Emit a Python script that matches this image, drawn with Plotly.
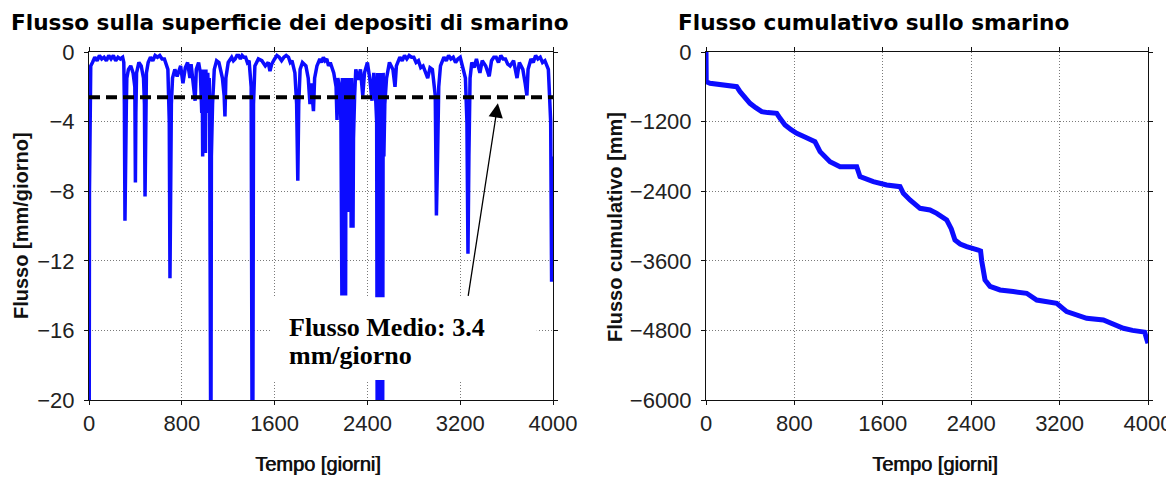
import plotly.graph_objects as go

# ---------------- data ----------------
# Left: daily surface flux (mm/giorno)
flux_days = [0, 2, 4, 8, 15, 30, 50, 70, 90, 110, 130, 150, 170, 190, 210, 230, 250, 270, 290, 300,
             305, 310, 314, 318, 322, 326, 340, 360, 380, 395, 400, 404, 410, 430, 450, 470, 478, 483, 488, 495,
             510, 530, 550, 570, 590, 610, 630, 650, 680, 692, 698, 704, 710, 720, 740, 760, 790, 810, 830, 850,
             870, 880, 900, 915, 925, 945, 960, 972, 976, 980, 984, 988, 992, 996, 1000, 1004, 1008, 1012, 1016,
             1020, 1024, 1030, 1036, 1040, 1043, 1048, 1052, 1055,
             1065, 1080, 1100, 1120, 1150, 1165, 1172, 1180, 1200, 1215, 1230, 1245, 1260, 1275, 1290, 1305, 1320,
             1335, 1350, 1365, 1380, 1398, 1402, 1405, 1410, 1413, 1418, 1430, 1460, 1490, 1520, 1545, 1560, 1575,
             1600, 1620, 1640, 1660, 1680, 1700, 1720, 1735, 1750, 1775, 1790, 1800, 1808, 1820, 1840, 1870, 1890,
             1905, 1915, 1935, 1945, 1965, 1990, 2005, 2020, 2035, 2050, 2065, 2080, 2110, 2130, 2138, 2145,
             2160, 2172, 2180, 2184, 2188, 2192, 2196, 2200, 2204, 2208, 2212, 2216, 2220, 2224, 2228, 2232, 2236,
             2240, 2244, 2248, 2252, 2256, 2260, 2264, 2268, 2272, 2276, 2280, 2290, 2300, 2320, 2340, 2360, 2375,
             2400, 2420, 2440, 2455,
             2470, 2480, 2484, 2488, 2492, 2496, 2500, 2504, 2508, 2512, 2516, 2520, 2524, 2528, 2532, 2536, 2542,
             2550, 2565, 2590, 2620, 2638, 2650, 2680, 2700, 2720, 2740, 2760, 2780,
             2800, 2820, 2840, 2860, 2880, 2900, 2920, 2940, 2960, 2985, 2995, 3005, 3015, 3030, 3060, 3080, 3100,
             3120, 3140, 3160, 3180, 3200, 3220, 3245, 3258, 3267, 3275, 3285, 3300, 3320, 3340, 3370, 3390, 3420,
             3450, 3470, 3490, 3510, 3530, 3550, 3570, 3590, 3610, 3630, 3660, 3690, 3710, 3740, 3760, 3775,
             3785, 3810, 3830, 3850, 3870, 3890, 3910, 3930, 3960, 3980, 3988, 3992, 3996, 4000]
flux_vals = [-20, -20, -8, -1.5, -0.8, -0.6, -0.3, -0.5, -0.2, -0.4, -0.3, -0.5, -0.2, -0.4, -0.2, -0.5, -0.3, -0.4, -0.3, -0.6,
             -3, -9.7, -5.5, -5.6, -3, -1.5, -1.0, -0.8, -1.2, -2, -7.5, -3.5, -1.2, -0.6, -0.8, -1.5, -3, -8.3, -4, -1.2,
             -0.6, -0.3, -0.5, -0.2, -0.3, -0.2, -0.4, -0.4, -1.0, -4, -13, -9, -3, -1.5, -1.0, -1.4, -0.8, -1.8, -0.9, -0.6,
             -1.5, -0.7, -2.0, -2.8, -1.0, -0.6, -1.2, -3.5, -1.0, -6, -1.2, -4.5, -1.0, -3, -1.2, -5.8, -1.0, -3.5, -1.5,
             -3.2, -1.2, -2.6, -1.5, -3, -20, -20, -20, -6,
             -3.0, -1.0, -0.5, -0.6, -1.5, -2.5, -3.7, -1.5, -0.6, -0.4, -0.3, -0.5, -0.4, -0.2, -0.2, -0.4, -0.2,
             -0.3, -0.3, -0.6, -0.5, -2, -20, -20, -20, -20, -3, -0.8, -0.4, -0.5, -0.8, -0.6, -1.1, -0.7,
             -0.4, -0.2, -0.3, -0.5, -0.3, -0.2, -0.3, -0.6, -0.5, -1.2, -3, -7.4, -3, -1, -0.6, -0.8, -1.5,
             -3, -1.8, -3.4, -1.5, -0.8, -0.4, -0.6, -0.3, -0.5, -0.4, -0.8, -0.6, -1.2, -2.0, -3.9, -1.5,
             -2, -4, -14, -1.5, -14, -2, -14, -1.5, -14, -2, -14, -1.5, -9.2, -2, -9.2, -1.5, -9.2,
             -2, -9.2, -1.5, -8, -2, -10.1, -1.5, -10.1, -2, -10.1, -5, -2.5, -1.0, -1.6, -1.0, -2.5, -1.2,
             -0.6, -1.5, -2.8, -1.2,
             -2.5, -4, -20, -1.2, -20, -1.2, -20, -1.2, -20, -1.2, -20, -1.2, -20, -1.2, -20, -1.2, -6,
             -3, -1.5, -0.6, -1.0, -2.0, -0.8, -0.3, -0.5, -0.2, -0.4, -0.2, -0.3,
             -0.3, -0.6, -0.5, -0.9, -0.8, -1.2, -1.5, -0.9, -1.0, -2.5, -9.4, -6, -2, -0.8, -0.3, -0.5, -0.2,
             -0.4, -0.3, -0.6, -0.4, -0.3, -0.8, -1.5, -4, -11.6, -6, -1.5, -0.6, -0.9, -0.4, -1.2, -0.5, -0.8,
             -1.4, -0.5, -0.3, -0.3, -0.6, -0.2, -0.4, -0.4, -0.7, -0.8, -0.5, -1.5, -0.6, -1.0, -1.8, -2.5,
             -1.0, -0.4, -0.6, -0.2, -0.4, -0.3, -0.6, -0.5, -1.0, -4, -13.2, -10.5, -13.2, -6]
mean_flux = -2.6

# Right: cumulative flux (mm)
cum_days = [0, 2, 36, 120, 200, 278, 308, 350, 398, 450, 504, 560, 640, 670, 715, 770, 821, 900, 986,
            1032, 1080, 1122, 1213, 1290, 1364, 1394, 1450, 1514, 1635, 1756, 1786, 1846, 1937, 2027, 2088,
            2178, 2220, 2253, 2300, 2359, 2464, 2485, 2495, 2525, 2570, 2661, 2780, 2902, 2993, 3080, 3174,
            3264, 3350, 3445, 3596, 3690, 3777, 3860, 3928, 3970, 3988, 4000]
cum_vals = [0, -512, -540, -560, -575, -598, -684, -790, -885, -960, -1029, -1045, -1057, -1144, -1258,
            -1340, -1402, -1470, -1546, -1718, -1810, -1891, -1977, -1977, -1977, -2150, -2195, -2236, -2293,
            -2322, -2436, -2552, -2695, -2724, -2781, -2896, -3050, -3241, -3310, -3356, -3414, -3430, -3600,
            -3931, -4040, -4103, -4130, -4160, -4276, -4300, -4332, -4476, -4530, -4591, -4620, -4690, -4763,
            -4800, -4822, -4830, -4950, -5022]

x_ticks = [0, 800, 1600, 2400, 3200, 4000]
y_ticks_left = [0, -4, -8, -12, -16, -20]
y_ticks_right = [0, -1200, -2400, -3600, -4800, -6000]

# ---------------- figure ----------------
OFF = 8                      # page body margin of the html page
W, H = 1174 - OFF, 478 - OFF
BLUE = "#0c0cff"
TICKFONT = dict(family="Liberation Sans Narrow, Liberation Sans, Arial", size=22, color="#222222")
XTITLEFONT = dict(family="Liberation Sans Narrow, Liberation Sans, Arial", size=20, color="#111111",
                  shadow="0.7px 0px 0px #111111")
YTITLEFONT = dict(family="Liberation Sans, Arial", size=20, color="#111111")
MAINTITLEFONT = dict(family="DejaVu Sans, Verdana", size=21.6, color="black")
NOTEFONT = dict(family="Liberation Serif, Times New Roman", size=26, color="black")

fig = go.Figure()
fig.add_trace(go.Scatter(x=flux_days, y=flux_vals, mode="lines",
                         line=dict(color=BLUE, width=3.5), xaxis="x", yaxis="y",
                         showlegend=False, hoverinfo="skip"))
fig.add_trace(go.Scatter(x=[0, 4000], y=[mean_flux, mean_flux], mode="lines",
                         line=dict(color="black", width=4, dash="11px,6px"), xaxis="x", yaxis="y",
                         showlegend=False, hoverinfo="skip"))
fig.add_trace(go.Scatter(x=cum_days, y=cum_vals, mode="lines",
                         line=dict(color=BLUE, width=5), xaxis="x2", yaxis="y2",
                         showlegend=False, hoverinfo="skip"))

def px_x(p):
    return (p - OFF) / W

def px_y(p):
    return 1 - (p - OFF) / H

common_axis = dict(showline=True, linecolor="#111111", linewidth=1, mirror="ticks",
                   ticks="outside", ticklen=4, tickcolor="#111111", tickwidth=1,
                   showgrid=True, gridcolor="#7a7a7a", griddash="1px,2px", gridwidth=1,
                   zeroline=False, tickfont=TICKFONT, fixedrange=True, automargin=False)

fig.update_layout(
    width=W, height=H,
    margin=dict(l=0, r=0, t=0, b=0, autoexpand=False),
    paper_bgcolor="white", plot_bgcolor="white",
    xaxis=dict(domain=[px_x(89), px_x(553)], range=[0, 4000], tickvals=x_ticks,
               ticklabelstandoff=0, anchor="y", **common_axis),
    yaxis=dict(domain=[px_y(400), px_y(52)], range=[-20, 0], tickvals=y_ticks_left,
               ticklabelstandoff=5, anchor="x", **common_axis),
    xaxis2=dict(domain=[px_x(706), px_x(1148)], range=[0, 4000], tickvals=x_ticks,
                ticklabelstandoff=0, anchor="y2", **common_axis),
    yaxis2=dict(domain=[px_y(400), px_y(52)], range=[-6000, 0], tickvals=y_ticks_right,
                ticklabelstandoff=5, anchor="x2", **common_axis),
)

# white box behind the annotation text
fig.add_shape(type="rect", xref="x", yref="y", x0=1560, x1=3860, y0=-18.85, y1=-14.1,
              fillcolor="white", line=dict(width=0), layer="above")

annots = [
    dict(text="<b>Flusso sulla superficie dei depositi di smarino</b>", xref="paper", yref="paper",
         x=px_x(9), y=px_y(22), xanchor="left", yanchor="middle", showarrow=False, font=MAINTITLEFONT),
    dict(text="<b>Flusso cumulativo sullo smarino</b>", xref="paper", yref="paper",
         x=px_x(873), y=px_y(22), xanchor="center", yanchor="middle", showarrow=False, font=MAINTITLEFONT),
    dict(text="Tempo [giorni]", xref="paper", yref="paper",
         x=px_x(318), y=px_y(464), xanchor="center", yanchor="middle", showarrow=False, font=XTITLEFONT),
    dict(text="Tempo [giorni]", xref="paper", yref="paper",
         x=px_x(935), y=px_y(464), xanchor="center", yanchor="middle", showarrow=False, font=XTITLEFONT),
    dict(text="<b>Flusso [mm/giorno]</b>", xref="paper", yref="paper", textangle=-90,
         x=px_x(21), y=px_y(226), xanchor="center", yanchor="middle", showarrow=False, font=YTITLEFONT),
    dict(text="<b>Flusso cumulativo [mm]</b>", xref="paper", yref="paper", textangle=-90,
         x=px_x(615), y=px_y(227), xanchor="center", yanchor="middle", showarrow=False, font=YTITLEFONT),
    # arrow
    dict(text="", xref="x", yref="y", axref="x", ayref="y", x=3525, y=-2.95, ax=3267, ay=-14.1,
         showarrow=True, arrowhead=2, arrowsize=2.2, arrowwidth=1.3, arrowcolor="black"),
    dict(text="<b>Flusso Medio: 3.4</b>", xref="paper", yref="paper",
         x=px_x(287), y=px_y(327), xanchor="left", yanchor="middle", align="left", showarrow=False,
         font=NOTEFONT),
    dict(text="<b>mm/giorno</b>", xref="paper", yref="paper",
         x=px_x(287), y=px_y(355), xanchor="left", yanchor="middle", align="left", showarrow=False,
         font=NOTEFONT),
]
for a in annots:
    fig.add_annotation(**a)

fig.write_html("out.html")
